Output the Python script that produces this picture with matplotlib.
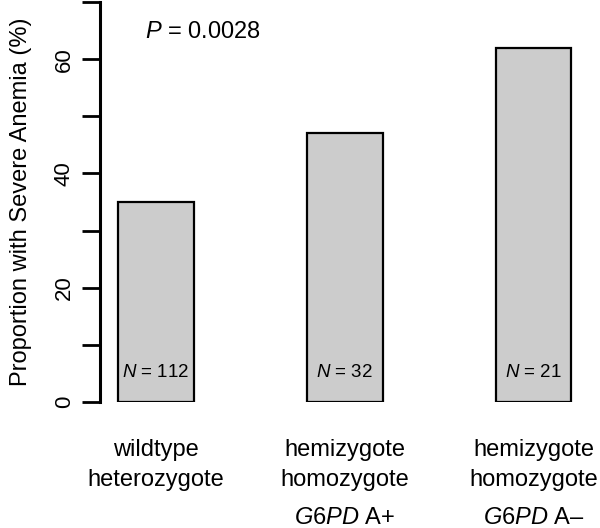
import matplotlib.pyplot as plt

plt.rcParams["font.family"] = ["Liberation Sans", "DejaVu Sans"]
plt.rcParams["mathtext.fontset"] = "custom"
plt.rcParams["mathtext.rm"] = "Liberation Sans"
plt.rcParams["mathtext.it"] = "Liberation Sans:italic"

line1 = ["wildtype", "hemizygote", "hemizygote"]
line2 = ["heterozygote", "homozygote", "homozygote"]
genotype = ["", "$G6PD$ A+", "$G6PD$ A\u2013"]
proportion = [35, 47, 62]
n_labels = ["$N$ = 112", "$N$ = 32", "$N$ = 21"]
p_text = "$P$ = 0.0028"

positions = [0, 1, 2]

fig = plt.figure(figsize=(6, 5.28), dpi=100)
ax = fig.add_axes([100 / 600, 126 / 528, 490 / 600, 400 / 528])

ax.bar(positions, proportion, width=0.4, color="#CCCCCC",
       edgecolor="black", linewidth=1.6)

for x, lab in zip(positions, n_labels):
    ax.text(x, 5.2, lab, ha="center", va="center", fontsize=13.5)

ax.text(0.25, 64.8, p_text, ha="center", va="center", fontsize=17)

ax.set_xlim(-0.295, 2.298)
ax.set_ylim(0, 70)
ax.set_yticks(range(0, 71, 10))
ax.set_yticklabels(["0", "", "20", "", "40", "", "60", ""], rotation=90,
                   va="center", fontsize=16)
ax.tick_params(axis="y", length=13, width=2, pad=5)
ax.set_xticks([])

# category labels below the bars (two lines + genotype line)
for x, a, b, g in zip(positions, line1, line2, genotype):
    ax.text(x, -9.45, a, ha="center", va="baseline", fontsize=17, clip_on=False)
    ax.text(x, -14.7, b, ha="center", va="baseline", fontsize=17, clip_on=False)
    if g:
        ax.text(x, -21.3, g, ha="center", va="baseline", fontsize=17,
                clip_on=False)

ax.set_ylabel("Proportion with Severe Anemia (%)", fontsize=17, labelpad=16)

for s in ["top", "right", "bottom"]:
    ax.spines[s].set_visible(False)
ax.spines["left"].set_linewidth(2.2)

fig.savefig("out.png", dpi=100)
